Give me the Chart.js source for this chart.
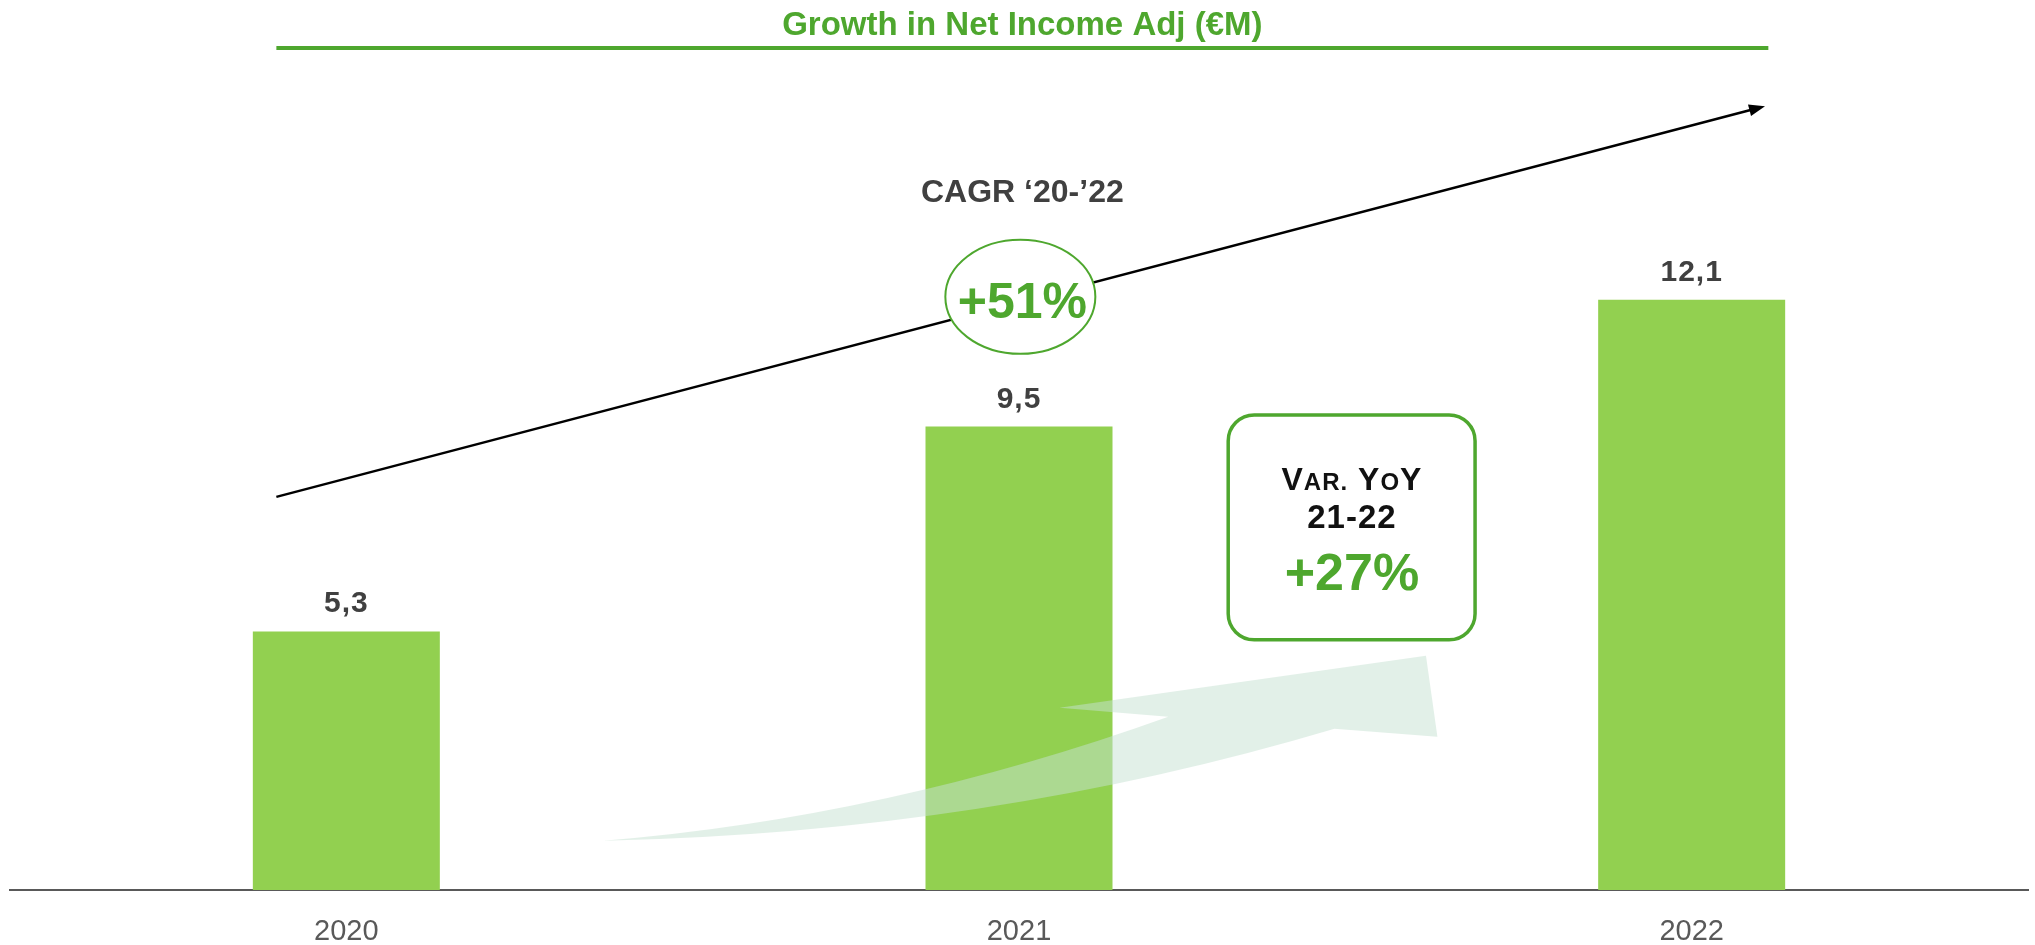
<!DOCTYPE html>
<html>
<head>
<meta charset="utf-8">
<script src="https://cdn.jsdelivr.net/npm/chart.js@4.4.1/dist/chart.umd.min.js"></script>
<style>
  body { margin: 0; background: #fff; }
</style>
</head>
<body>
<canvas id="chart" width="2035" height="945"></canvas>
<script>
// data
var years = ['2020', '2021', '2022'];
var netIncome = [5.3, 9.5, 12.1];
var valueLabels = ['5,3', '9,5', '12,1'];

// texts
var chartTitle = 'Growth in Net Income Adj (\u20acM)';
var cagrLabel = 'CAGR \u201820-\u201922';
var cagrValue = '+51%';
var yoyPeriod = '21-22';
var yoyValue = '+27%';

var green = '#4EA72E';
var barGreen = '#92D050';
var darkGrey = '#404040';
var font = '"Liberation Sans", Arial, sans-serif';

// draws the title, arrows and call-outs on top of the bars
// positions are in (category index, value) units so they follow the scales
var overlay = {
  id: 'overlay',
  afterDatasetsDraw: function(chart) {
    var ctx = chart.ctx;
    var xs = chart.scales.x, ys = chart.scales.y;
    function X(i) { return xs.getPixelForValue(i); }
    function Y(v) { return ys.getPixelForValue(v); }

    ctx.save();

    // bar value labels
    var meta = chart.getDatasetMeta(0);
    ctx.fillStyle = darkGrey;
    ctx.font = 'bold 30px ' + font;
    ctx.letterSpacing = '1px';
    ctx.textAlign = 'center';
    ctx.textBaseline = 'alphabetic';
    meta.data.forEach(function(bar, k) {
      ctx.fillText(valueLabels[k], bar.x, bar.y - 19);
    });
    ctx.letterSpacing = '0px';

    // curved translucent arrow
    ctx.fillStyle = 'rgba(198,225,210,0.5)';
    ctx.beginPath();
    ctx.moveTo(X(0.382), Y(1.008));
    ctx.quadraticCurveTo(X(0.804), Y(1.48), X(1.222), Y(3.55));
    ctx.lineTo(X(1.060), Y(3.734));
    ctx.lineTo(X(1.605), Y(4.80));
    ctx.lineTo(X(1.622), Y(3.14));
    ctx.lineTo(X(1.469), Y(3.304));
    ctx.quadraticCurveTo(X(0.951), Y(1.172), X(0.382), Y(1.008));
    ctx.closePath();
    ctx.fill();

    // title + rule
    ctx.fillStyle = green;
    ctx.font = 'bold 33px ' + font;
    ctx.fillText(chartTitle, X(1.005), Y(17.52));
    ctx.strokeStyle = green;
    ctx.lineWidth = 4;
    ctx.beginPath();
    ctx.moveTo(X(-0.104), Y(17.26));
    ctx.lineTo(X(2.114), Y(17.26));
    ctx.stroke();

    // CAGR trend arrow
    var x0 = X(-0.104), y0 = Y(8.06), x1 = X(2.109), y1 = Y(16.07);
    var a = Math.atan2(y1 - y0, x1 - x0);
    ctx.strokeStyle = '#000';
    ctx.lineWidth = 2.5;
    ctx.beginPath();
    ctx.moveTo(x0, y0);
    ctx.lineTo(x1 - 12 * Math.cos(a), y1 - 12 * Math.sin(a));
    ctx.stroke();
    ctx.fillStyle = '#000';
    ctx.beginPath();
    ctx.moveTo(x1, y1);
    ctx.lineTo(x1 - 16 * Math.cos(a) + 6 * Math.sin(a), y1 - 16 * Math.sin(a) - 6 * Math.cos(a));
    ctx.lineTo(x1 - 16 * Math.cos(a) - 6 * Math.sin(a), y1 - 16 * Math.sin(a) + 6 * Math.cos(a));
    ctx.closePath();
    ctx.fill();

    // CAGR label
    ctx.fillStyle = darkGrey;
    ctx.font = 'bold 32px ' + font;
    ctx.fillText(cagrLabel, X(1.005), Y(14.11));

    // CAGR ellipse
    ctx.fillStyle = '#fff';
    ctx.strokeStyle = green;
    ctx.lineWidth = 2;
    ctx.beginPath();
    ctx.ellipse(X(1.002), Y(12.16), 75, 57, 0, 0, Math.PI * 2);
    ctx.fill();
    ctx.stroke();
    ctx.fillStyle = green;
    ctx.font = 'bold 50px ' + font;
    ctx.fillText(cagrValue, X(1.005), Y(11.73));

    // YoY box
    var bx = X(1.311), by = Y(9.74), bw = X(1.678) - bx, bh = Y(5.13) - by;
    ctx.fillStyle = '#fff';
    ctx.strokeStyle = green;
    ctx.lineWidth = 3.5;
    ctx.beginPath();
    ctx.roundRect(bx, by, bw, bh, 26);
    ctx.fill();
    ctx.stroke();

    // "Var. YoY" in small caps
    var parts = [['V', 32], ['AR.', 24], [' ', 32], ['Y', 32], ['O', 24], ['Y', 32]];
    var total = 0;
    ctx.letterSpacing = '1px';
    parts.forEach(function(p) {
      ctx.font = 'bold ' + p[1] + 'px ' + font;
      p.w = ctx.measureText(p[0]).width;
      total += p.w;
    });
    var cx = X(1.495);
    var tx = cx - total / 2;
    ctx.fillStyle = '#111';
    ctx.textAlign = 'left';
    parts.forEach(function(p) {
      ctx.font = 'bold ' + p[1] + 'px ' + font;
      ctx.fillText(p[0], tx, Y(8.20));
      tx += p.w;
    });
    ctx.textAlign = 'center';
    ctx.font = 'bold 33px ' + font;
    ctx.fillText(yoyPeriod, cx, Y(7.43));
    ctx.letterSpacing = '0px';
    ctx.fillStyle = green;
    ctx.font = 'bold 52px ' + font;
    ctx.fillText(yoyValue, cx, Y(6.16));

    ctx.restore();
  }
};

var ctx = document.getElementById('chart');

var myChart = new Chart(ctx, {
  type: 'bar',
  data: {
    labels: years,
    datasets: [{
      data: netIncome,
      backgroundColor: barGreen,
      borderWidth: 0,
      categoryPercentage: 1,
      barPercentage: 0.278
    }]
  },
  options: {
    responsive: false,
    animation: false,
    layout: { padding: { top: 12, left: 10, right: 7, bottom: 0 } },
    plugins: {
      legend: { display: false },
      tooltip: { enabled: false }
    },
    scales: {
      x: {
        grid: { display: false, drawTicks: false },
        border: { display: true, color: '#595959', width: 2 },
        ticks: {
          color: '#595959',
          padding: 25,
          font: { family: font, size: 29 }
        },
        afterFit: function(scale) { scale.height = 55; }
      },
      y: {
        display: false,
        min: 0,
        max: 18
      }
    }
  },
  plugins: [overlay]
});
</script>
</body>
</html>
